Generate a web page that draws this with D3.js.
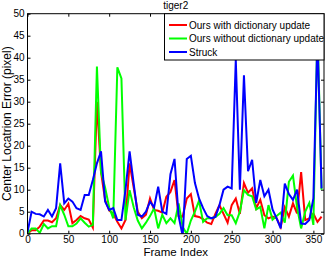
<!DOCTYPE html>
<html>
<head>
  <meta charset="utf-8">
  <title>tiger2</title>
  <script src="https://d3js.org/d3.v7.min.js"></script>
  <style>
    body { margin: 0; background: #fff; font-family: "Liberation Sans", Arial, sans-serif; }
    svg text { font-family: "Liberation Sans", Arial, sans-serif; }
  </style>
</head>
<body>
  <div id="chart"></div>
  <script>
    // frame index of each sample
    const frames = [0, 5, 10, 15, 20, 25, 30, 35, 40, 45, 50, 55, 60, 65, 70, 75, 80, 85, 90, 95,
      100, 105, 110, 115, 120, 125, 130, 135, 140, 145, 150, 155, 160, 165, 170, 175, 180, 185, 190, 195,
      200, 205, 210, 215, 220, 225, 230, 235, 240, 245, 250, 255, 260, 265, 270, 275, 280, 285, 290, 295,
      300, 305, 310, 315, 320, 325, 330, 335, 340, 345, 350, 355, 360];

    const withUpdate = [0, 0.8, 0.8, 1.6, 3, 3, 2.6, 3.5, 6.5, 5.4,
      6.8, 2.4, 3.1, 4, 3.5, 3.2, 1.4, 30, 14, 7.7,
      5.3, 4.5, 2.7, 1.2, 3.1, 16, 10.5, 5, 3.5, 4.3,
      8, 5.4, 5.2, 4.8, 8.4, 9.5, 12.2, 4, 3.9, 8,
      9, 4, 3.8, 3.3, 2.5, 2.2, 4.5, 6.5, 4.5, 2.5,
      6.5, 8, 4.5, 11.5, 9.3, 10.3, 5.8, 7.7, 4.2, 3.5,
      3.9, 3.5, 1.5, 6, 3.9, 6.9, 4.6, 14, 3.1, 3.5,
      4.6, 2.7, 3.9];

    const withoutUpdate = [0, 1.2, 1.2, 0.2, 2.2, 1.2, 1.7, 1.7, 6.5, 4.3,
      1.7, 1.7, 2.3, 3.5, 2.5, 1.6, 2, 38, 14, 10.5,
      6, 3.5, 37.8, 35.3, 3.1, 9.9, 6, 3, 1.2, 2.5,
      4, 5.8, 1.2, 4.3, 2.4, 3.5, 2.4, 6.9, 1.5, 0,
      3, 5, 7.5, 2.7, 3.5, 3.5, 3.8, 4.5, 5.8, 4.2,
      4.2, 2.4, 5, 9.9, 8.8, 8.5, 5.5, 6.1, 1.2, 6.5,
      3.2, 4, 4.8, 2.5, 11.8, 13.2, 6, 1.2, 5, 7,
      2, 47, 10];

    const struck = [0.3, 5.0, 4.5, 4.4, 3.9, 5.4, 3.9, 5.8, 16, 6.9,
      8, 7.3, 5.8, 5.4, 8.8, 8.8, 12.2, 16, 18.7, 7.3,
      5.4, 5.8, 3.1, 3.1, 10, 18.7, 11.4, 4.3, 3.9, 5,
      7.3, 6, 10.7, 5, 4.5, 13.5, 17, 4, -0.5, 17,
      17.7, 11.5, 8, 5.8, 4, 3.5, 3.8, 6.5, 10, 10.7,
      10.3, 39.5, 10, 36, 14.2, 16.8, 7, 12.2, 8.5, 10,
      5.5, 3.5, 1.2, 11.4, 9, 7.7, 10, 2.3, 2.2, 3.1,
      8, 45, 10.3];

    const seriesNames = ["Ours with dictionary update", "Ours without dictionary update", "Struck"];
    const seriesColors = ["#ff0000", "#00ff00", "#0000ff"];
    const xTicks = [0, 50, 100, 150, 200, 250, 300, 350];
    const yTicks = [0, 5, 10, 15, 20, 25, 30, 35, 40, 45, 50];

    const width = 325, height = 256;
    const m = { left: 27.5, right: 324, top: 13.7, bottom: 233.7 };

    const svg = d3.select("#chart").append("svg")
      .attr("width", width)
      .attr("height", height);

    const x = d3.scaleLinear().domain([0, 363]).range([m.left, m.right]);
    const y = d3.scaleLinear().domain([0, 50]).range([m.bottom, m.top]);

    svg.append("defs").append("clipPath").attr("id", "clip")
      .append("rect")
      .attr("x", m.left).attr("y", m.top)
      .attr("width", m.right - m.left).attr("height", m.bottom - m.top);

    // axes, ticks point inward on all four sides (matlab look)
    const tickLen = 3;
    svg.append("g").attr("transform", `translate(0,${m.bottom})`)
      .call(d3.axisBottom(x).tickValues(xTicks).tickSizeInner(-tickLen).tickSizeOuter(0).tickPadding(2))
      .call(g => g.select(".domain").remove());
    svg.append("g").attr("transform", `translate(0,${m.top})`)
      .call(d3.axisTop(x).tickValues(xTicks).tickSizeInner(-tickLen).tickSizeOuter(0).tickFormat(""))
      .call(g => g.select(".domain").remove());
    svg.append("g").attr("transform", `translate(${m.left},0)`)
      .call(d3.axisLeft(y).tickValues(yTicks).tickSizeInner(-tickLen).tickSizeOuter(0).tickPadding(3))
      .call(g => g.select(".domain").remove());
    svg.append("g").attr("transform", `translate(${m.right},0)`)
      .call(d3.axisRight(y).tickValues(yTicks).tickSizeInner(-tickLen).tickSizeOuter(0).tickFormat(""))
      .call(g => g.select(".domain").remove());

    svg.selectAll(".tick text")
      .attr("font-size", 10)
      .attr("fill", "#000")
      .attr("font-family", "Liberation Sans, Arial, sans-serif");
    svg.selectAll(".tick line").attr("stroke", "#000");

    // draw series
    const allSeries = [withUpdate, withoutUpdate, struck];
    const line = d3.line()
      .x((d, i) => x(frames[i]))
      .y(d => y(d));

    const plot = svg.append("g").attr("clip-path", "url(#clip)");
    allSeries.forEach((vals, s) => {
      plot.append("path")
        .datum(vals)
        .attr("fill", "none")
        .attr("stroke", seriesColors[s])
        .attr("stroke-width", 2)
        .attr("d", line);
    });

    // box
    svg.append("rect")
      .attr("x", m.left).attr("y", m.top)
      .attr("width", m.right - m.left).attr("height", m.bottom - m.top)
      .attr("fill", "none")
      .attr("stroke", "#000")
      .attr("stroke-width", 1);

    // legend
    const leg = svg.append("g");
    leg.append("rect")
      .attr("x", 164.5).attr("y", m.top)
      .attr("width", m.right - 164.5).attr("height", 46.3)
      .attr("fill", "#fff")
      .attr("stroke", "#000")
      .attr("stroke-width", 1);
    seriesNames.forEach((name, i) => {
      const ly = 25 + i * 13.5;
      leg.append("line")
        .attr("x1", 169).attr("x2", 187)
        .attr("y1", ly).attr("y2", ly)
        .attr("stroke", seriesColors[i])
        .attr("stroke-width", 2);
      leg.append("text")
        .attr("x", 189).attr("y", ly + 3.5)
        .attr("font-size", 10)
        .text(name);
    });

    // title and axis labels
    svg.append("text")
      .attr("x", (m.left + m.right) / 2).attr("y", 8.5)
      .attr("text-anchor", "middle")
      .attr("font-size", 10)
      .text("tiger2");

    svg.append("text")
      .attr("x", (m.left + m.right) / 2).attr("y", 255.5)
      .attr("text-anchor", "middle")
      .attr("font-size", 11.5)
      .text("Frame Index");

    svg.append("text")
      .attr("transform", `translate(11,${(m.top + m.bottom) / 2}) rotate(-90)`)
      .attr("text-anchor", "middle")
      .attr("font-size", 12)
      .text("Center Locatrion Error (pixel)");
  </script>
</body>
</html>
